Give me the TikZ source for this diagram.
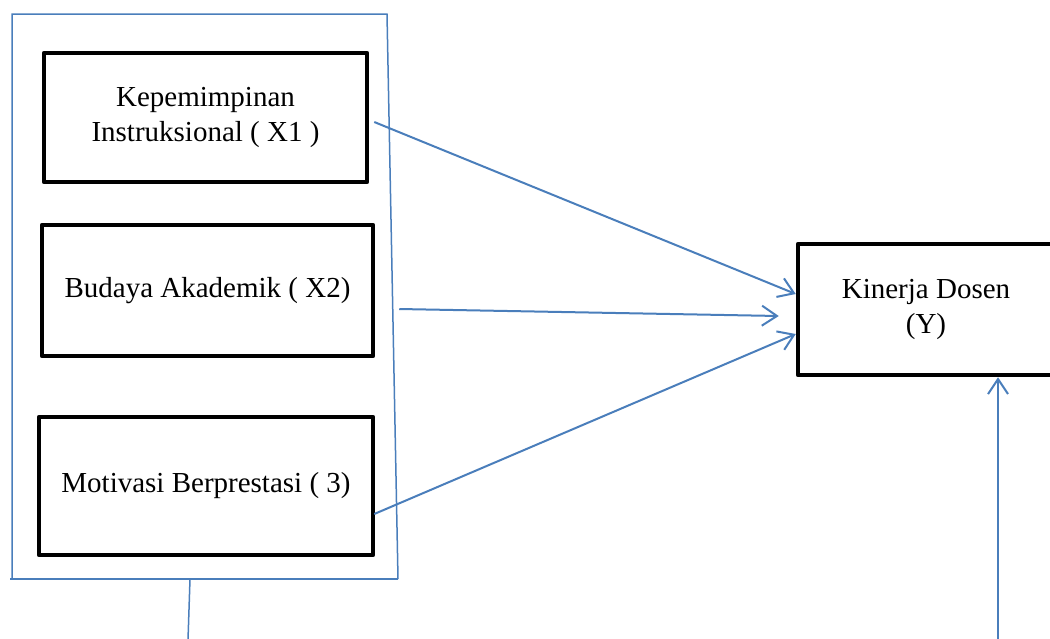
\documentclass[tikz,border=0pt]{standalone}
\usepackage{fontspec}
\setmainfont{Liberation Serif}
\usetikzlibrary{arrows.meta}
\definecolor{lineblue}{RGB}{74,126,187}
\begin{document}
\begin{tikzpicture}[x=1pt,y=-1pt,
  varbox/.style={draw=black,line width=4.5pt,line join=round,align=center,
    font=\fontsize{29}{35}\selectfont,inner sep=0pt},
  link/.style={draw=lineblue,line width=2pt,-{Straight Barb[length=15pt,width=20pt]}},
  framebox/.style={draw=lineblue,line width=1.5pt}]
\useasboundingbox (0,0) rectangle (1050,638);
\clip (0,0) rectangle (1050,638);
% outer frame
\coordinate (f1) at (12,14);
\coordinate (f2) at (387,14);
\coordinate (f3) at (398,579);
\coordinate (f4) at (12,579);
\coordinate (f0) at (10,579);
\coordinate (stemtop) at (190,579);
\coordinate (stembot) at (188,640);
\draw[framebox] (f4) -- (f1) -- (f2) -- (f3);
\draw[framebox] (f0) -- (f3);
\draw[framebox] (stemtop) -- (stembot);
% boxes
\node[varbox,minimum width=323pt,minimum height=129pt] (b1) at (205.5,117.5) {Kepemimpinan\\Instruksional ( X1 )};
\node[varbox,minimum width=331pt,minimum height=131pt] (b2) at (207.5,290.5) {Budaya Akademik ( X2)};
\node[varbox,minimum width=334pt,minimum height=138pt] (b3) at (206,486) {Motivasi Berprestasi ( 3)};
\node[varbox,minimum width=256pt,minimum height=131pt] (y) at (926,309.5) {Kinerja Dosen\\(Y)};
% connectors
\draw[link] ([xshift=5pt,yshift=-4.5pt]b1.east) -- ([yshift=15.5pt]y.west);
\draw[link] ([xshift=24pt,yshift=-18.5pt]b2.east) -- ([xshift=-17pt,yshift=-6.5pt]y.west);
\draw[link] ([xshift=-1pt,yshift=-28pt]b3.east) -- ([yshift=-24.5pt]y.west);
\coordinate (c4) at (998,640);
\draw[link] (c4) -- ([xshift=72pt]y.south);
\end{tikzpicture}
\end{document}
